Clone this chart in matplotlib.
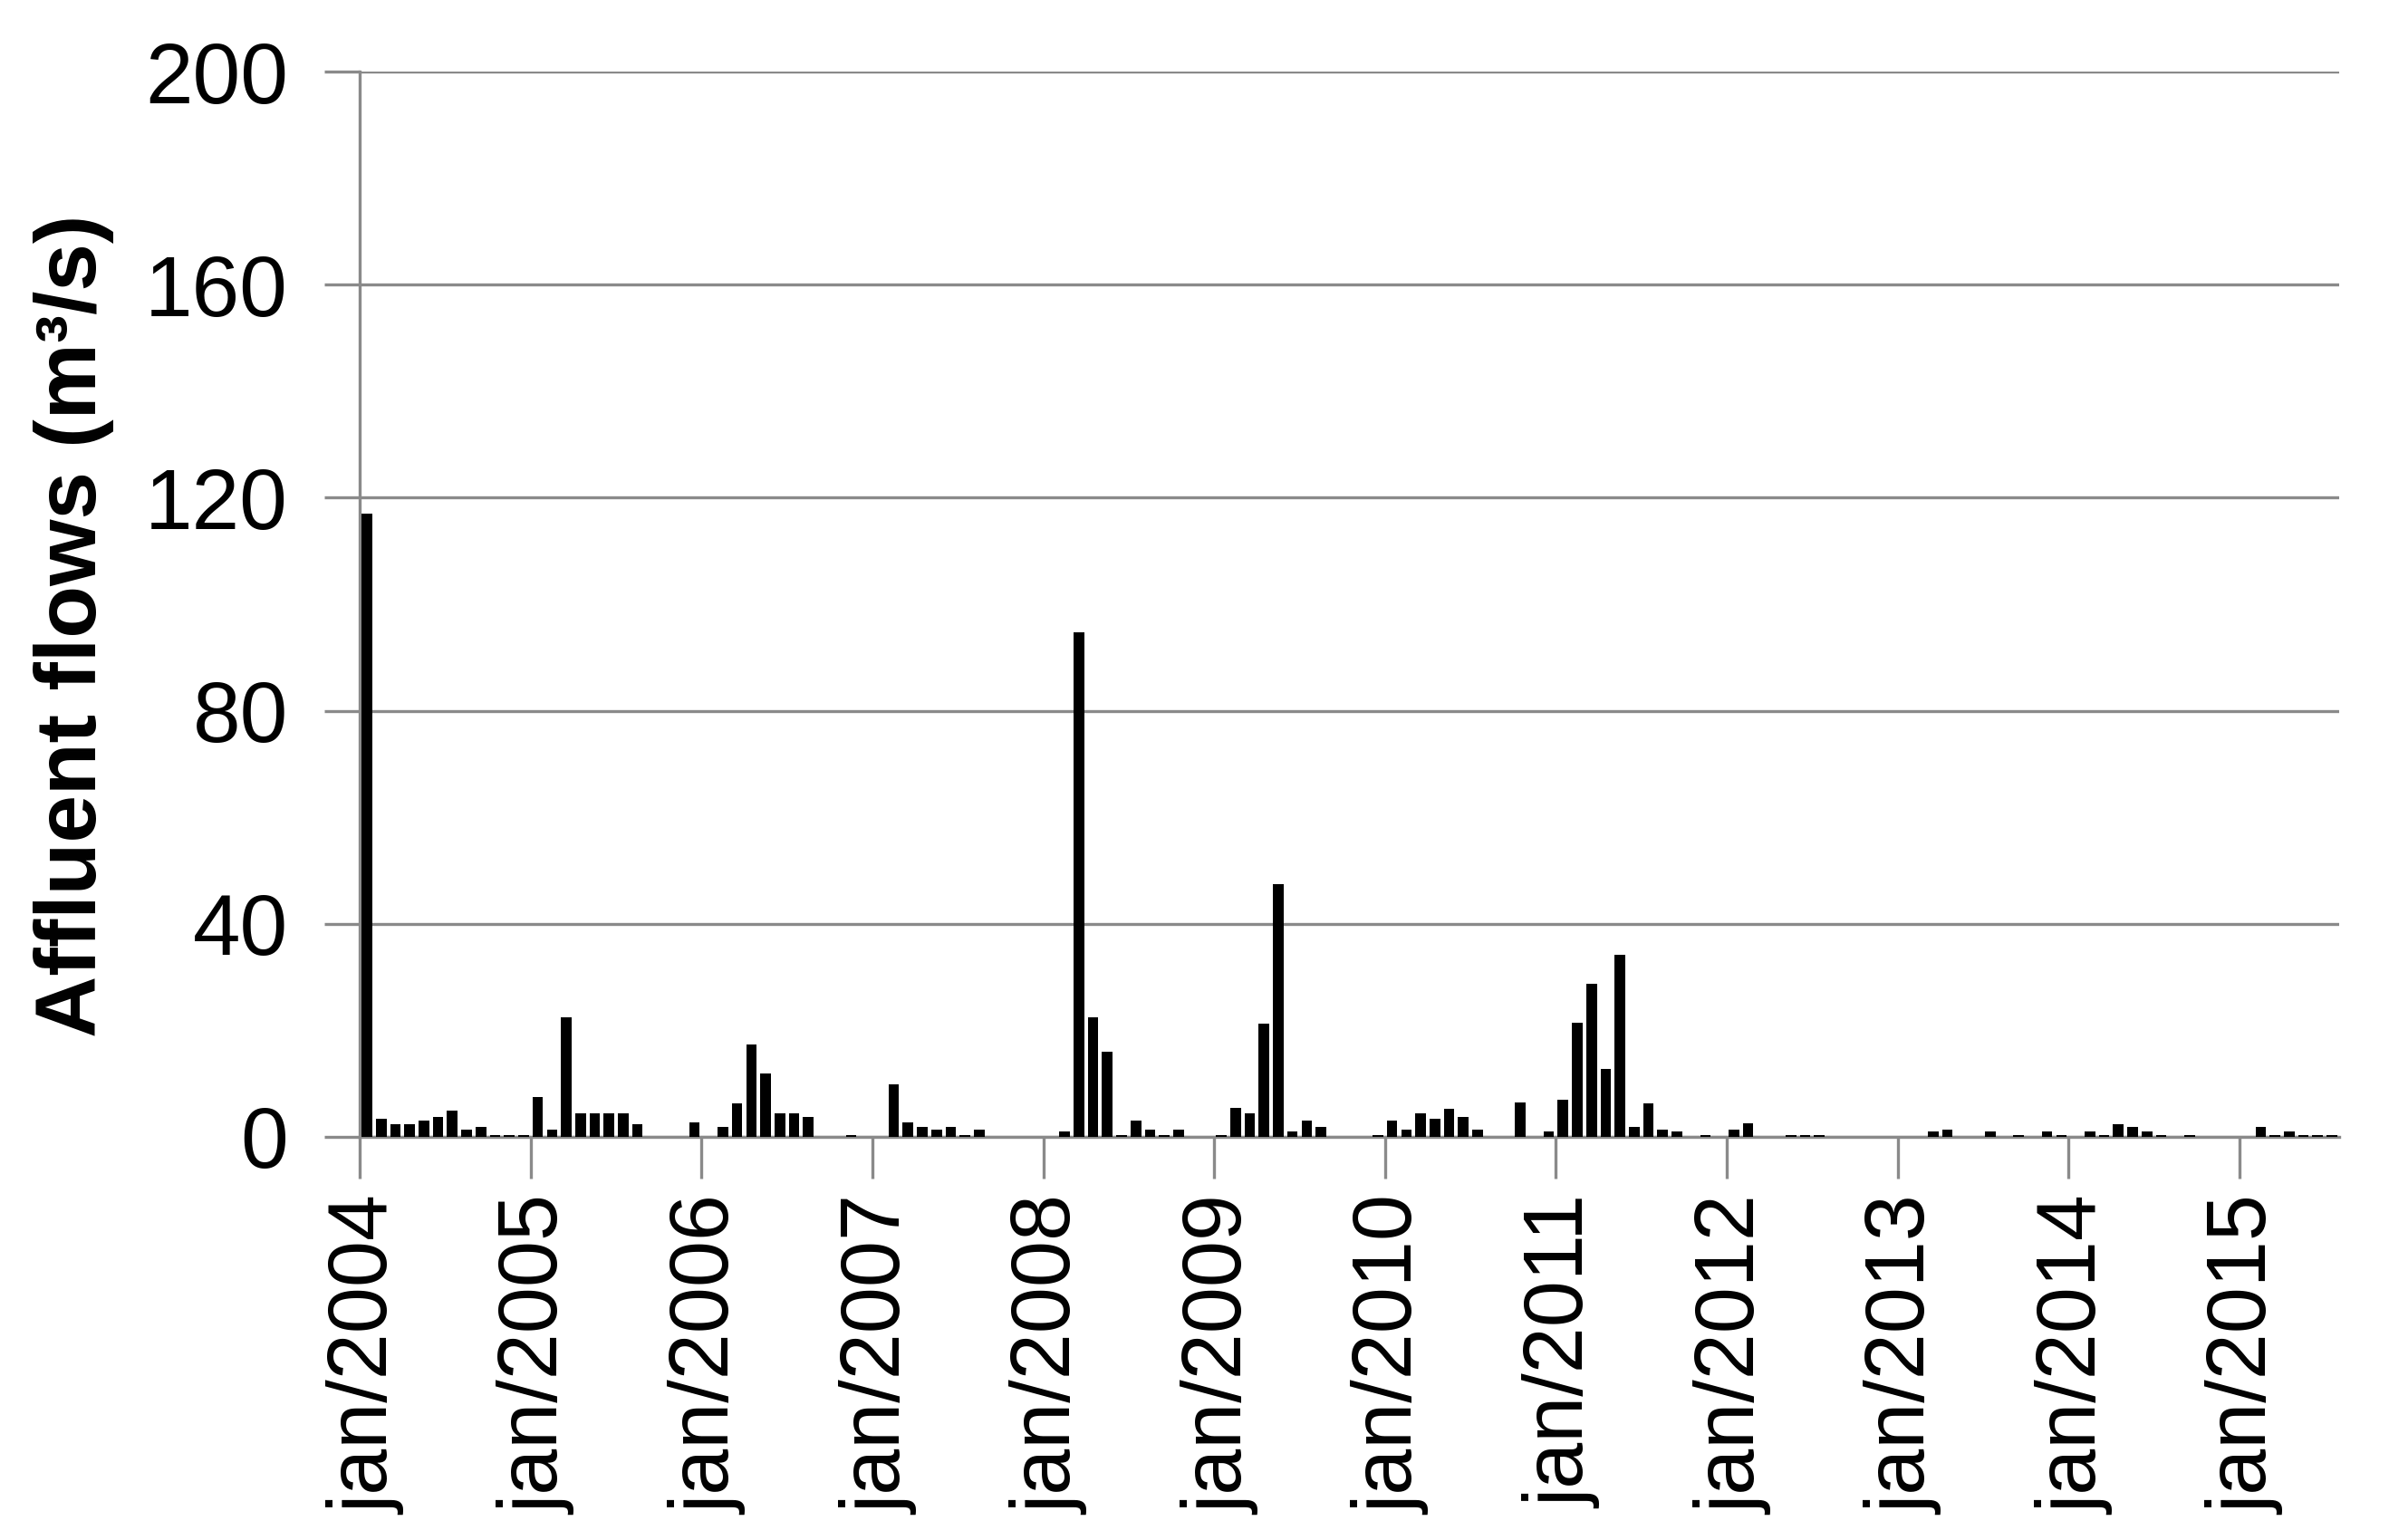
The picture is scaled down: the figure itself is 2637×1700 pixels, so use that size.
import matplotlib
matplotlib.use("Agg")
import matplotlib.pyplot as plt
import numpy as np

years = list(range(2004, 2016))
tick_labels = [f"jan/{y}" for y in years]

flow_2004 = [117.0, 3.4, 2.4, 2.4, 3.0, 3.8, 4.9, 1.4, 1.9, 0.4, 0.4, 0.4]
flow_2005 = [7.4, 1.4, 22.4, 4.4, 4.4, 4.4, 4.4, 2.4, 0, 0, 0, 2.7]
flow_2006 = [0, 1.9, 6.2, 17.3, 11.9, 4.4, 4.4, 3.8, 0, 0, 0.4, 0]
flow_2007 = [0, 9.8, 2.7, 1.9, 1.3, 1.9, 0.4, 1.3, 0, 0, 0, 0]
flow_2008 = [0, 1.0, 94.7, 22.4, 15.9, 0.4, 3.0, 1.4, 0.4, 1.4, 0, 0]
flow_2009 = [0.4, 5.5, 4.4, 21.3, 47.5, 1.0, 3.0, 1.9, 0, 0, 0, 0.4]
flow_2010 = [3.0, 1.4, 4.4, 3.4, 5.2, 3.8, 1.3, 0, 0, 6.4, 0, 1.0]
flow_2011 = [6.9, 21.5, 28.7, 12.8, 34.1, 1.9, 6.2, 1.4, 1.0, 0, 0.4, 0]
flow_2012 = [1.3, 2.5, 0, 0, 0.4, 0.4, 0.4, 0, 0, 0, 0, 0]
flow_2013 = [0, 0, 1.0, 1.3, 0, 0, 1.0, 0, 0.4, 0, 1.0, 0.4]
flow_2014 = [0, 1.0, 0.4, 2.4, 1.9, 1.0, 0.4, 0, 0.4, 0, 0, 0]
flow_2015 = [0, 1.9, 0.4, 1.0, 0.4, 0.4, 0.4]

flows = (flow_2004 + flow_2005 + flow_2006 + flow_2007 + flow_2008 + flow_2009 +
         flow_2010 + flow_2011 + flow_2012 + flow_2013 + flow_2014 + flow_2015)

plt.rcParams['font.family'] = ['Liberation Sans', 'DejaVu Sans']

fig = plt.figure(figsize=(26.37, 17.0), dpi=100)
ax = fig.add_axes([0.1506, 0.2618, 0.9791 - 0.1506, 0.9535 - 0.2618])

x = np.arange(len(flows))
ax.bar(x, flows, width=0.74, color='black', zorder=3)

ax.set_xlim(-0.5, len(flows) - 0.5)
ax.set_ylim(0, 200)
ax.set_yticks([0, 40, 80, 120, 160, 200])
ax.yaxis.grid(True, color='#8a8a8a', linewidth=2.4, zorder=0)
ax.set_axisbelow(True)

for s in ['top', 'right']:
    ax.spines[s].set_visible(False)
for s in ['left', 'bottom']:
    ax.spines[s].set_color('#8a8a8a')
    ax.spines[s].set_linewidth(2.4)

jan_idx = np.arange(0, len(flows), 12)
ax.set_xticks(jan_idx - 0.5)
ax.set_xticklabels([])
ax.set_xticks(jan_idx, tick_labels, minor=True)
ax.tick_params(axis='x', which='major', length=33, width=2.4, color='#8a8a8a')
ax.tick_params(axis='x', which='minor', length=0, pad=47, labelsize=66, labelrotation=90)
ax.tick_params(axis='y', which='major', length=28, width=2.4, color='#8a8a8a', pad=29, labelsize=68)

ax.set_ylabel('Affluent flows (m³/s)', fontsize=68, fontweight='bold')
ax.yaxis.set_label_coords(-0.124, 0.48)

fig.savefig('out.png', dpi=100)
